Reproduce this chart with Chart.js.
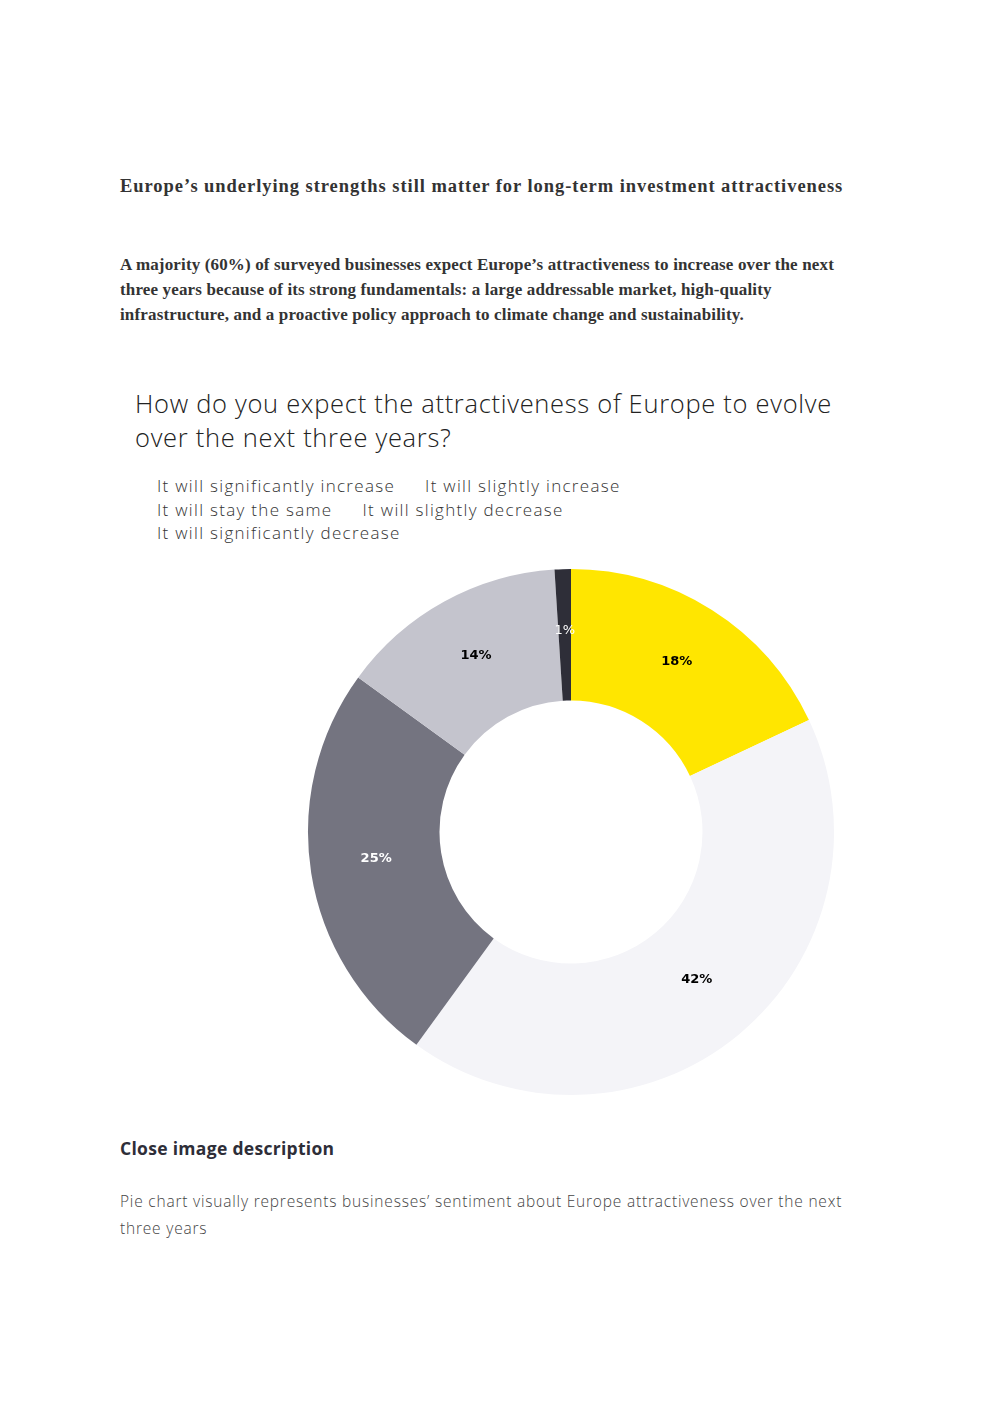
<!DOCTYPE html>
<html><head><meta charset="utf-8">
<script src="https://cdn.jsdelivr.net/npm/chart.js@4"></script>
<style>
body{margin:0;width:992px;height:1403px;background:#fff;position:relative;font-family:"Open Sans",sans-serif;color:#2e2e38}
.a{position:absolute;left:120px;margin:0}
#t1{top:176px;font-family:"Liberation Serif",serif;font-weight:bold;font-size:18.5px;letter-spacing:0.95px;color:#333}
#t2{top:252px;width:750px;font-family:"Liberation Serif",serif;font-weight:bold;font-size:17px;line-height:25px;letter-spacing:0.15px;color:#333}
#t3{left:135px;top:386px;width:740px;font-size:25.5px;font-weight:300;line-height:34px;letter-spacing:0.7px;color:#222}
#leg{position:absolute;left:157px;top:474px;width:560px;font-size:17px;font-weight:300;line-height:23.5px;letter-spacing:1.3px;color:#333}
#leg span{margin-right:30px;white-space:nowrap}
#cw{position:absolute;left:300px;top:562px;width:542px;height:540px}
#t4{top:1136px;font-weight:bold;font-size:17.5px;letter-spacing:0.3px}
#t5{top:1188px;width:750px;font-size:15.5px;line-height:27px;letter-spacing:0.8px;color:#444;font-weight:300}
</style></head><body>
<p class="a" id="t1">Europe’s underlying strengths still matter for long-term investment attractiveness</p>
<p class="a" id="t2">A majority (60%) of surveyed businesses expect Europe’s attractiveness to increase over the next three years because of its strong fundamentals: a large addressable market, high-quality infrastructure, and a proactive policy approach to climate change and sustainability.</p>
<p class="a" id="t3">How do you expect the attractiveness of Europe to evolve over the next three years?</p>
<div id="leg"></div>
<div id="cw"><canvas id="c"></canvas></div>
<p class="a" id="t4">Close image description</p>
<p class="a" id="t5">Pie chart visually represents businesses’ sentiment about Europe attractiveness over the next three years</p>
<script>
const categories=["It will significantly increase","It will slightly increase","It will stay the same","It will slightly decrease","It will significantly decrease"];
const values=[18,42,25,14,1];
const colors=["#FFE600","#F4F4F8","#747480","#C4C4CD","#2E2E38"];
const labelColors=["#000","#000","#fff","#000","#fff"];
const leg=document.getElementById('leg');
leg.innerHTML=categories.slice(0,2).map(c=>'<span>'+c+'</span>').join('')+'<br>'+categories.slice(2,4).map(c=>'<span>'+c+'</span>').join('')+'<br><span>'+categories[4]+'</span>';
const lbl={id:'lbl',afterDatasetsDraw(ch){const ctx=ch.ctx;ch.getDatasetMeta(0).data.forEach((a,i)=>{const m=(a.startAngle+a.endAngle)/2;const r=(a.innerRadius+a.outerRadius)/2;ctx.save();ctx.font=(values[i]<3?'':'bold ')+'13px "DejaVu Sans", sans-serif';ctx.fillStyle=labelColors[i];ctx.textAlign='center';ctx.textBaseline='middle';ctx.fillText(values[i]+'%',a.x+Math.cos(m)*r,a.y+Math.sin(m)*r-4);ctx.restore();});}};
new Chart(document.getElementById('c'),{type:'doughnut',data:{labels:categories,datasets:[{data:values,backgroundColor:colors,borderWidth:0}]},options:{responsive:true,maintainAspectRatio:false,animation:false,cutout:'50%',layout:{padding:7},plugins:{legend:{display:false},tooltip:{enabled:false}}},plugins:[lbl]});
</script>
</body></html>
